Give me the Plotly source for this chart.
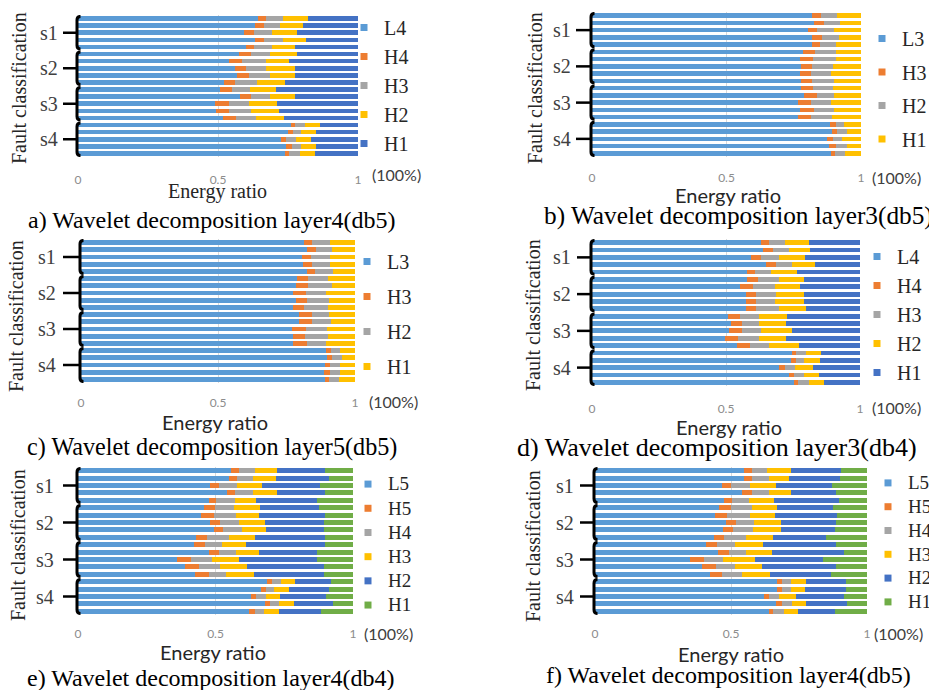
import plotly.graph_objects as go

# ---------------- data (cumulative energy ratio at the right end of each segment) ----------------
bar_index = list(range(20))           # 5 bars per fault class s1..s4, top to bottom
groups = ["s1", "s2", "s3", "s4"]
ticks = [0, 0.5, 1]
tick_text = ["0", "0.5", "1"]

# a) layer4 (db5): L4 | H4 | H3 | H2 | H1
a_L4 = [0.643, 0.631, 0.593, 0.633, 0.601, 0.575, 0.539, 0.560, 0.569, 0.521,
        0.506, 0.577, 0.488, 0.492, 0.518, 0.760, 0.750, 0.724, 0.744, 0.738]
a_H4 = [0.673, 0.664, 0.627, 0.664, 0.629, 0.617, 0.586, 0.601, 0.611, 0.560,
        0.551, 0.619, 0.538, 0.538, 0.565, 0.776, 0.768, 0.744, 0.764, 0.754]
a_H3 = [0.732, 0.720, 0.694, 0.732, 0.694, 0.687, 0.673, 0.673, 0.687, 0.640,
        0.613, 0.687, 0.611, 0.619, 0.635, 0.810, 0.798, 0.780, 0.798, 0.792]
a_H2 = [0.821, 0.804, 0.783, 0.815, 0.774, 0.783, 0.754, 0.776, 0.776, 0.738,
        0.706, 0.774, 0.712, 0.717, 0.735, 0.863, 0.851, 0.833, 0.851, 0.848]

# b) layer3 (db5): L3 | H3 | H2 | H1
b_L3 = [0.819, 0.826, 0.804, 0.819, 0.819, 0.785, 0.773, 0.777, 0.773, 0.777,
        0.777, 0.789, 0.764, 0.773, 0.764, 0.885, 0.893, 0.875, 0.881, 0.887]
b_H3 = [0.850, 0.862, 0.835, 0.854, 0.847, 0.829, 0.820, 0.819, 0.814, 0.819,
        0.823, 0.835, 0.814, 0.826, 0.814, 0.906, 0.909, 0.895, 0.906, 0.903]
b_H2 = [0.909, 0.922, 0.901, 0.918, 0.906, 0.906, 0.906, 0.895, 0.887, 0.901,
        0.895, 0.901, 0.887, 0.901, 0.891, 0.937, 0.947, 0.931, 0.947, 0.940]

# c) layer5 (db5): L3 | H3 | H2 | H1
c_L3 = [0.814, 0.826, 0.805, 0.809, 0.826, 0.787, 0.783, 0.775, 0.783, 0.775,
        0.796, 0.796, 0.771, 0.772, 0.775, 0.893, 0.897, 0.891, 0.887, 0.891]
c_H3 = [0.844, 0.856, 0.839, 0.844, 0.854, 0.827, 0.830, 0.820, 0.826, 0.814,
        0.844, 0.842, 0.821, 0.818, 0.826, 0.912, 0.915, 0.909, 0.909, 0.905]
c_H2 = [0.909, 0.917, 0.909, 0.909, 0.918, 0.903, 0.917, 0.893, 0.905, 0.903,
        0.905, 0.912, 0.897, 0.900, 0.893, 0.945, 0.951, 0.945, 0.945, 0.942]

# d) layer3 (db4): L4 | H4 | H3 | H2 | H1
d_L4 = [0.629, 0.639, 0.595, 0.651, 0.580, 0.580, 0.552, 0.573, 0.573, 0.573,
        0.506, 0.518, 0.511, 0.498, 0.542, 0.745, 0.742, 0.699, 0.735, 0.755]
d_H4 = [0.660, 0.674, 0.629, 0.686, 0.610, 0.620, 0.601, 0.611, 0.611, 0.611,
        0.554, 0.558, 0.558, 0.545, 0.589, 0.763, 0.760, 0.720, 0.755, 0.770]
d_H3 = [0.720, 0.735, 0.699, 0.748, 0.667, 0.699, 0.682, 0.686, 0.682, 0.699,
        0.623, 0.623, 0.630, 0.623, 0.661, 0.797, 0.792, 0.757, 0.792, 0.809]
d_H2 = [0.809, 0.813, 0.795, 0.832, 0.766, 0.792, 0.776, 0.792, 0.792, 0.797,
        0.726, 0.722, 0.745, 0.722, 0.773, 0.854, 0.851, 0.823, 0.847, 0.867]

# e) layer4 (db4): L5 | H5 | H4 | H3 | H2 | H1
e_L5 = [0.555, 0.548, 0.479, 0.543, 0.475, 0.457, 0.448, 0.479, 0.493, 0.430,
        0.422, 0.475, 0.361, 0.390, 0.427, 0.688, 0.664, 0.630, 0.679, 0.622]
e_H5 = [0.584, 0.579, 0.512, 0.572, 0.501, 0.497, 0.493, 0.515, 0.527, 0.469,
        0.463, 0.512, 0.410, 0.439, 0.475, 0.705, 0.682, 0.646, 0.697, 0.642]
e_H4 = [0.645, 0.636, 0.579, 0.636, 0.572, 0.566, 0.576, 0.585, 0.598, 0.549,
        0.524, 0.576, 0.487, 0.515, 0.539, 0.739, 0.713, 0.685, 0.731, 0.675]
e_H3 = [0.725, 0.719, 0.669, 0.724, 0.646, 0.663, 0.658, 0.681, 0.685, 0.642,
        0.612, 0.658, 0.585, 0.615, 0.640, 0.788, 0.766, 0.736, 0.784, 0.731]
e_H2 = [0.899, 0.911, 0.881, 0.899, 0.869, 0.875, 0.897, 0.894, 0.894, 0.897,
        0.897, 0.869, 0.869, 0.894, 0.894, 0.921, 0.913, 0.901, 0.927, 0.882]

# f) layer4 (db5): L5 | H5 | H4 | H3 | H2 | H1
f_L5 = [0.546, 0.546, 0.466, 0.542, 0.475, 0.456, 0.442, 0.481, 0.472, 0.436,
        0.407, 0.452, 0.350, 0.395, 0.423, 0.669, 0.669, 0.620, 0.667, 0.638]
f_H5 = [0.577, 0.579, 0.499, 0.577, 0.503, 0.499, 0.487, 0.518, 0.509, 0.476,
        0.448, 0.491, 0.402, 0.444, 0.466, 0.687, 0.687, 0.638, 0.687, 0.656]
f_H4 = [0.634, 0.638, 0.568, 0.638, 0.565, 0.577, 0.571, 0.583, 0.580, 0.556,
        0.513, 0.556, 0.472, 0.513, 0.540, 0.720, 0.720, 0.675, 0.724, 0.693]
f_H3 = [0.720, 0.715, 0.665, 0.720, 0.657, 0.669, 0.660, 0.683, 0.685, 0.653,
        0.617, 0.650, 0.587, 0.613, 0.644, 0.775, 0.771, 0.740, 0.777, 0.748]
f_H2 = [0.906, 0.902, 0.871, 0.886, 0.896, 0.875, 0.890, 0.886, 0.883, 0.850,
        0.886, 0.917, 0.840, 0.886, 0.869, 0.923, 0.924, 0.917, 0.926, 0.883]

total = [1.0] * 20

panel_series = [
    (["L4", "H4", "H3", "H2", "H1"], [a_L4, a_H4, a_H3, a_H2, total]),
    (["L3", "H3", "H2", "H1"], [b_L3, b_H3, b_H2, total]),
    (["L3", "H3", "H2", "H1"], [c_L3, c_H3, c_H2, total]),
    (["L4", "H4", "H3", "H2", "H1"], [d_L4, d_H4, d_H3, d_H2, total]),
    (["L5", "H5", "H4", "H3", "H2", "H1"], [e_L5, e_H5, e_H4, e_H3, e_H2, total]),
    (["L5", "H5", "H4", "H3", "H2", "H1"], [f_L5, f_H5, f_H4, f_H3, f_H2, total]),
]
captions = ["a) Wavelet decomposition layer4(db5)", "b) Wavelet decomposition layer3(db5)",
            "c) Wavelet decomposition layer5(db5)", "d) Wavelet decomposition layer3(db4)",
            "e) Wavelet decomposition layer4(db4)", "f) Wavelet decomposition layer4(db5)"]

# ---------------- style / layout ----------------
W, H = 937, 690
OFF = 8   # page body margin: figure is drawn 8px right/down of the window corner
COLORS = ["#5B9BD5", "#ED7D31", "#A5A5A5", "#FFC000", "#4472C4", "#70AD47"]
SERIF = "Liberation Serif, Times New Roman, serif"
SANS = "Lato, Liberation Sans, sans-serif"

# pixel geometry for each panel (window pixels)
# leg = (x, top y, legend font size (sets row pitch), text size, group gap)
GEO = [
    dict(box=(78, 358, 15, 157), tl=12, leg=(344, 8, 20, 20, 0), fc=(19, 88), slx=49, tk=(63, 77),
         er=(217, 191, SERIF, 20), pct=(370, 174), cap=(26, 220, 24)),
    dict(box=(592, 861, 12, 157), tl=10, leg=(862, 19, 20, 20, 4.5), fc=(535, 88), slx=562, tk=(576, 590),
         er=(728, 195, SANS, 20), pct=(870, 177), cap=(542, 215, 25.3)),
    dict(box=(81, 355, 239, 383), tl=9, leg=(347, 242, 20, 20, 6), fc=(16, 316), slx=47, tk=(63, 78),
         er=(215, 422, SANS, 20), pct=(367, 401), cap=(25, 447, 24.2)),
    dict(box=(592, 860, 239, 386), tl=12, leg=(857, 237, 20, 20, 0), fc=(533, 315), slx=562, tk=(577, 591),
         er=(729, 427, SANS, 20), pct=(870, 407), cap=(515, 448, 26)),
    dict(box=(78, 353, 467, 615), tl=8, leg=(348, 467, 16.3, 19, 0), fc=(18, 545), slx=45, tk=(63, 77),
         er=(213, 652, SANS, 20), pct=(362, 633), cap=(25, 678, 24)),
    dict(box=(595, 867, 467, 615), tl=8, leg=(868, 466, 16.0, 19, 0), fc=(533, 546), slx=565, tk=(580, 593),
         er=(731, 654, SANS, 20), pct=(872, 633), cap=(544, 675, 24)),
]


def px(x):
    return (x - OFF) / W


def py(y):
    return 1 - (y - OFF) / H


fig = go.Figure()
layout = dict(width=W, height=H, margin=dict(l=0, r=0, t=0, b=0, autoexpand=False),
              paper_bgcolor="white", plot_bgcolor="white", barmode="stack", bargap=0.35,
              showlegend=True)
shapes, annotations = [], []

for i, ((names, cums), g) in enumerate(zip(panel_series, GEO), start=1):
    sfx = "" if i == 1 else str(i)
    xa, ya, lg = "x" + sfx, "y" + sfx, "legend" + sfx
    x0, x1, y0, y1 = g["box"]
    pw = x1 - x0
    lx, ly, lfs, lts, lgap = g["leg"]

    prev = [0.0] * 20
    for k, (nm, cum) in enumerate(zip(names, cums)):
        widths = [c - p for c, p in zip(cum, prev)]
        prev = cum
        fig.add_trace(go.Bar(x=widths, y=bar_index, orientation="h", xaxis=xa, yaxis=ya,
                             marker=dict(color=COLORS[k], line=dict(width=0)),
                             showlegend=False, hoverinfo="skip"))
        label = nm if lts == lfs else f'<span style="font-size:{lts}px">{nm}</span>'
        fig.add_trace(go.Scatter(x=[None], y=[None], mode="markers", xaxis=xa, yaxis=ya,
                                 marker=dict(symbol="square", size=7, color=COLORS[k]),
                                 name=label, legend=lg, legendgroup=f"p{i}{nm}", showlegend=True))

    layout["xaxis" + sfx] = dict(domain=[px(x0), px(x1)], anchor=ya, range=[0, 1],
                                 tickvals=ticks, ticktext=tick_text, showgrid=True,
                                 gridcolor="#D9D9D9", gridwidth=1, zeroline=False, showline=False,
                                 ticks="outside", ticklen=g["tl"], tickcolor="rgba(0,0,0,0)",
                                 tickfont=dict(family=SANS, size=12, color="#8C8C8C"),
                                 fixedrange=True)
    layout["yaxis" + sfx] = dict(domain=[py(y1), py(y0)], anchor=xa, range=[19.5, -0.5],
                                 showticklabels=False, showgrid=False, zeroline=False,
                                 showline=False, fixedrange=True)
    layout[lg] = dict(x=px(lx), y=py(ly), xanchor="left", yanchor="top",
                      bgcolor="rgba(0,0,0,0)", font=dict(family=SERIF, size=lfs, color="#262626"),
                      tracegroupgap=lgap, itemclick=False, itemdoubleclick=False)

    # braces and group labels
    xv = -1.0 / pw
    xh = 2.5 / pw
    for gi, gname in enumerate(groups):
        yt = gi * 5 - 0.5 + 0.2
        yb = gi * 5 + 4.5 - 0.2
        shapes.append(dict(type="path", xref=xa + " domain", yref=ya,
                           path=f"M {xh},{yt} Q {xv},{yt} {xv},{yt + 0.5} L {xv},{yb - 0.5} Q {xv},{yb} {xh},{yb}",
                           line=dict(color="black", width=3)))
        tx0, tx1 = g["tk"]
        shapes.append(dict(type="line", xref=xa + " domain", yref=ya,
                           x0=(tx0 - x0) / pw, x1=xv, y0=gi * 5 + 2, y1=gi * 5 + 2,
                           line=dict(color="black", width=2.5)))
        annotations.append(dict(text=gname, xref="paper", yref=ya, x=px(g["slx"]), y=gi * 5 + 2,
                                showarrow=False, xanchor="center", yanchor="middle",
                                font=dict(family=SERIF, size=20, color="#404040")))

    fx, fy = g["fc"]
    annotations.append(dict(text="Fault classification", xref="paper", yref="paper",
                            x=px(fx), y=py(fy), textangle=-90, showarrow=False,
                            xanchor="center", yanchor="middle",
                            font=dict(family=SERIF, size=20, color="#262626")))
    ex, ey, efam, efs = g["er"]
    annotations.append(dict(text="Energy ratio", xref="paper", yref="paper", x=px(ex), y=py(ey),
                            showarrow=False, xanchor="center", yanchor="middle",
                            font=dict(family=efam, size=efs, color="#262626")))
    qx, qy = g["pct"]
    annotations.append(dict(text="(100%)", xref="paper", yref="paper", x=px(qx), y=py(qy),
                            showarrow=False, xanchor="left", yanchor="middle",
                            font=dict(family=SANS, size=16, color="#404040")))
    cx, cy, cfs = g["cap"]
    annotations.append(dict(text=captions[i - 1], xref="paper", yref="paper", x=px(cx), y=py(cy),
                            showarrow=False, xanchor="left", yanchor="middle",
                            font=dict(family=SERIF, size=cfs, color="black")))

layout["shapes"] = shapes
layout["annotations"] = annotations
fig.update_layout(**layout)
fig.write_html("out.html")
